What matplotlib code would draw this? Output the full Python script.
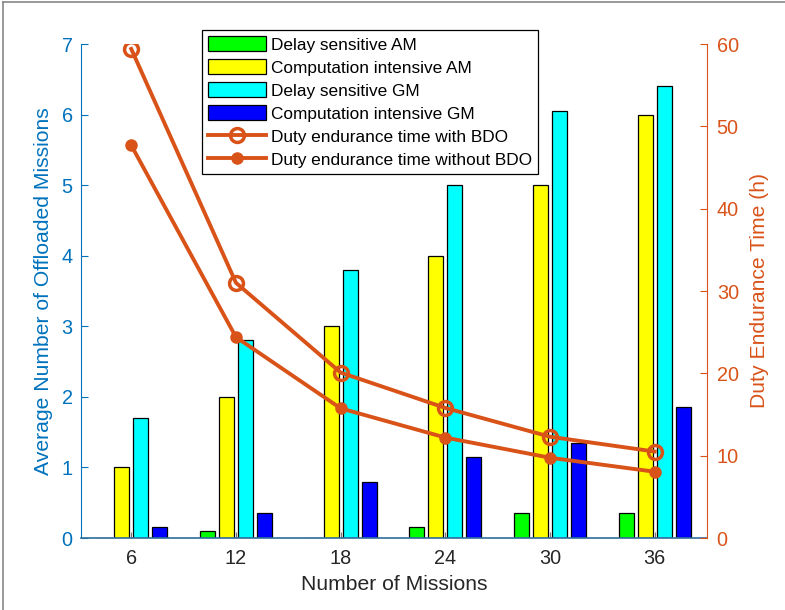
import matplotlib
matplotlib.use("Agg")
import matplotlib.pyplot as plt
import numpy as np
from matplotlib.lines import Line2D

plt.rcParams['font.family'] = ['Liberation Sans', 'DejaVu Sans']

missions = [6, 12, 18, 24, 30, 36]
delay_am = [0, 0.1, 0, 0.15, 0.35, 0.35]
comp_am = [1, 2, 3, 4, 5, 6]
delay_gm = [1.7, 2.8, 3.8, 5.0, 6.05, 6.4]
comp_gm = [0.15, 0.35, 0.8, 1.15, 1.35, 1.85]
time_with_bdo = [59.4, 31.0, 20.1, 15.8, 12.3, 10.5]
time_without_bdo = [47.7, 24.4, 15.75, 12.2, 9.75, 8.05]

bar_series = [
    (delay_am, '#00FF00', 'Delay sensitive AM'),
    (comp_am, '#FFFF00', 'Computation intensive AM'),
    (delay_gm, '#00FFFF', 'Delay sensitive GM'),
    (comp_gm, '#0000FF', 'Computation intensive GM'),
]

BLUE = '#0072BD'
ORANGE = '#D95319'
DARK = '#262626'

fig = plt.figure(figsize=(7.85, 6.10), dpi=100)
ax = fig.add_axes([81/785, 1-538/610, (707-81)/785, (538-44)/610])

x = np.arange(len(missions))
step = 0.181
width = 0.143
handles = []
for i, (vals, col, lab) in enumerate(bar_series):
    b = ax.bar(x + (i - 1.5) * step, vals, width, color=col, edgecolor='black',
               linewidth=0.9, label=lab, zorder=2)
    handles.append(b)

ax.set_xlim(-0.48, 5.5)
ax.set_ylim(0, 7)
ax.set_xticks(x)
ax.set_xticklabels([str(m) for m in missions])
ax.set_yticks(range(0, 8))
ax.tick_params(axis='x', direction='in', length=4, colors='#777777', labelcolor=DARK,
               labelsize=14.3, pad=8)
ax.tick_params(axis='y', direction='in', length=5, colors=BLUE, labelcolor=BLUE,
               labelsize=14.3, pad=6)
ax.spines['top'].set_visible(False)
ax.spines['left'].set_color(BLUE)
ax.spines['bottom'].set_color('#2F6E9C')
ax.spines['bottom'].set_linewidth(1.2)
ax.spines['right'].set_visible(False)
ax.set_xlabel('Number of Missions', fontsize=15.2, color=DARK, labelpad=5)
ax.set_ylabel('Average Number of Offloaded Missions', fontsize=15.2, color=BLUE, labelpad=6)

ax2 = ax.twinx()
l1, = ax2.plot(x, time_with_bdo, color=ORANGE, lw=2.8, marker='o', markersize=10,
               markerfacecolor='none', markeredgewidth=2.5, markeredgecolor=ORANGE,
               label='Duty endurance time with BDO')
l2, = ax2.plot(x, time_without_bdo, color=ORANGE, lw=2.8, marker='o', markersize=8,
               markerfacecolor=ORANGE, markeredgecolor=ORANGE,
               label='Duty endurance time without BDO')
ax2.set_ylim(0, 60)
ax2.set_yticks(range(0, 61, 10))
ax2.tick_params(axis='y', direction='in', length=5, colors=ORANGE, labelcolor=ORANGE,
                labelsize=14.3, pad=7)
for s in ['top', 'left', 'bottom']:
    ax2.spines[s].set_visible(False)
ax2.spines['right'].set_color(ORANGE)
ax2.set_ylabel('Duty Endurance Time (h)', fontsize=15.2, color=ORANGE, labelpad=8)

handles += [l1, l2]
leg = fig.legend(handles=handles, labels=[h.get_label() for h in handles],
                 loc='upper left', bbox_to_anchor=(202/785, 1-30/610), borderaxespad=0,
                 fontsize=12.4, fancybox=False, framealpha=1, edgecolor='black',
                 handlelength=3.37, handleheight=1.0, labelspacing=0.37,
                 handletextpad=0.3, borderpad=0.35)
leg.get_frame().set_linewidth(0.9)

fig.add_artist(Line2D([3/785, 3/785], [0, 1-2/610], transform=fig.transFigure,
                      color='#888888', lw=1.2))
fig.add_artist(Line2D([3/785, 1], [1-2/610, 1-2/610], transform=fig.transFigure,
                      color='#888888', lw=1.2))

fig.savefig('out.png', dpi=100)
